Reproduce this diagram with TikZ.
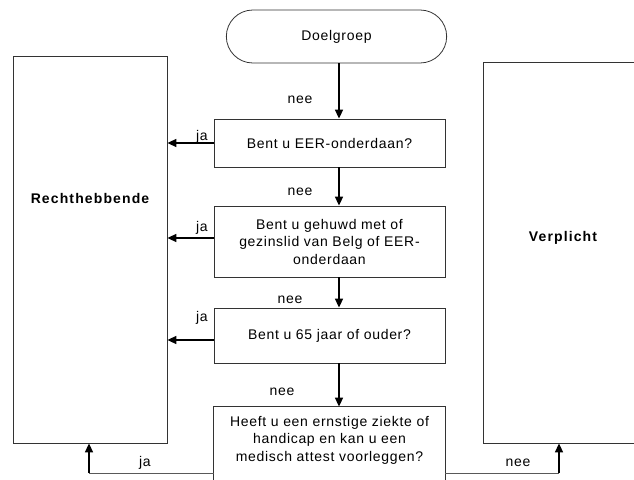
\documentclass[tikz,border=0pt]{standalone}
\usepackage{fontspec}
\setmainfont{Liberation Sans}[LetterSpace=5]
\usepackage{tikz}
\usetikzlibrary{shapes.misc, arrows.meta, positioning, calc}

\begin{document}
\begin{tikzpicture}[
    x=1pt, y=-1pt,
    font=\fontsize{14}{17.5}\selectfont,
    box/.style={draw=black!80, line width=0.8pt, minimum width=231, align=center, inner sep=2pt},
    bigbox/.style={draw=black!80, line width=0.8pt},
    flow/.style={line width=1.6pt, -{Triangle[length=9pt, width=8pt]}},
    feet/.style={draw=black!65, line width=0.8pt},
    lbl/.style={inner sep=1pt},
    outcome/.style={font=\fontsize{14}{14}\selectfont\bfseries\addfontfeature{LetterSpace=8}}
]
% Frame of the picture
\clip (0,0) rectangle (634,479);

% Start
\node[rounded rectangle, draw=black!80, line width=0.8pt, minimum width=227, minimum height=53] (start) at (336.5,36.5) {Doelgroep};

% Questions (top to bottom)
\node[box, minimum height=48] (qeer) at (329.5,143) {Bent u EER-onderdaan?};
\node[box, minimum height=71] (qfam) at (329.5,241.5) {Bent u gehuwd met of\\ gezinslid van Belg of EER-\\ onderdaan};
\node[box, minimum height=55] (qage) at (329.5,335.5) {Bent u 65 jaar of ouder?};
\node[box, draw=none, minimum height=66] (qsick) at (329.5,440) {Heeft u een ernstige ziekte of\\ handicap en kan u een\\ medisch attest voorleggen?};
\draw[bigbox] ([yshift=-20]qsick.south west) -- (qsick.north west) -- (qsick.north east) -- ([yshift=-20]qsick.south east);

% Outcomes
\node[bigbox, minimum width=154, minimum height=387] (right) at (90,249.5) {};
\node[outcome] (rightl) at ([yshift=51]right.center) {Rechthebbende};
\node[bigbox, minimum width=160, minimum height=381] (oblig) at (563,252.5) {};
\node[outcome] (obligl) at ([yshift=15]oblig.center) {Verplicht};

% nee: down the column
\draw[flow] ([xshift=2.5]start.south) -- ([xshift=9.5]qeer.north);
\draw[flow] ([xshift=9.5]qeer.south) -- ([xshift=9.5]qfam.north);
\draw[flow] ([xshift=9.5]qfam.south) -- ([xshift=9.5]qage.north);
\draw[flow] ([xshift=9.5]qage.south) -- ([xshift=9.5]qsick.north);
\node[lbl] (n1) at (300,100) {nee};
\node[lbl] (n2) at (300,192) {nee};
\node[lbl] (n3) at (290,300) {nee};
\node[lbl] (n4) at (282,392) {nee};

% ja: to the left
\draw[flow] (qeer.west) -- (qeer.west -| right.east);
\draw[flow] ([yshift=3.5]qfam.west) -- ([yshift=3.5]qfam.west -| right.east);
\draw[flow] ([yshift=-4.5]qage.west) -- ([yshift=-4.5]qage.west -| right.east);
\node[lbl] (j1) at (202,137) {ja};
\node[lbl] (j2) at (202,228) {ja};
\node[lbl] (j3) at (202,318) {ja};

% last question: ja / nee along the foot
\coordinate (jfoot) at ([xshift=-1]right.south |- 0,473);
\coordinate (nfoot) at ([xshift=-4]oblig.south |- 0,473);
\draw[feet] (qsick.west |- jfoot) -- (jfoot);
\draw[feet] (qsick.east |- nfoot) -- (nfoot);
\draw[flow] (jfoot) -- (jfoot |- right.south);
\draw[flow] (nfoot) -- (nfoot |- oblig.south);
\node[lbl] (j4) at (145,463) {ja};
\node[lbl] (n5) at (518,463) {nee};

\end{tikzpicture}
\end{document}
